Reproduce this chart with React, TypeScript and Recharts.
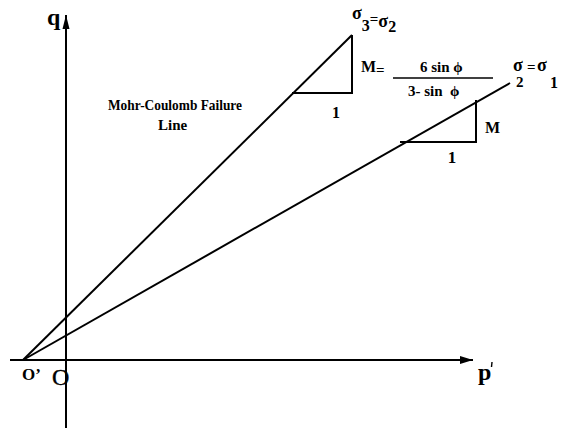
import React from 'react';
import { ScatterChart, Scatter, XAxis, YAxis } from 'recharts';

// Stress-path diagram in p'–q space (1 unit = 40 px at 567×431)
const P_DOMAIN: [number, number] = [-1.65, 12.525];
const Q_DOMAIN: [number, number] = [-1.775, 9];

type Pt = { p: number; q: number };

// axes
const pAxis: Pt[] = [{ p: -1.4, q: 0 }, { p: 10.175, q: 0 }];
const qAxis: Pt[] = [{ p: 0, q: -1.7 }, { p: 0, q: 8.625 }];
const origin: Pt[] = [{ p: 0, q: 0 }];

// shifted origin O' where both failure lines start
const shiftedOrigin: Pt[] = [{ p: -1.075, q: 0 }];

// failure lines
const compressionLine: Pt[] = [{ p: -1.075, q: 0 }, { p: 7.15, q: 8.125 }];
const extensionLine: Pt[] = [{ p: -1.075, q: 0 }, { p: 11.1, q: 6.925 }];

// slope triangles (run of 1, rise of M)
const compressionSlope: Pt[] = [
  { p: 5.65, q: 6.675 },
  { p: 7.15, q: 6.675 },
  { p: 7.15, q: 8.125 },
];
const extensionSlope: Pt[] = [
  { p: 8.35, q: 5.45 },
  { p: 10.25, q: 5.45 },
  { p: 10.25, q: 6.5 },
];

// text
const failureLabel = ['Mohr-Coulomb Failure', 'Line'];
const runLabel = '1';
const riseLabel = 'M';
const numerator = '6 sin ϕ';
const denominator = '3- sin  ϕ';

const FONT = 'Liberation Serif';
const INK = '#000';

const none = () => <g />;
const lineStyle = { stroke: INK, strokeWidth: 2 };

type ShapeProps = { cx?: number; cy?: number };

const txt = {
  fontFamily: FONT,
  fontWeight: 700,
  fill: INK,
} as const;

const ArrowRight = ({ cx = 0, cy = 0 }: ShapeProps) => (
  <polygon points={`${cx},${cy} ${cx - 13},${cy - 4} ${cx - 13},${cy + 4}`} fill={INK} />
);
const ArrowUp = ({ cx = 0, cy = 0 }: ShapeProps) => (
  <polygon points={`${cx},${cy} ${cx - 3.5},${cy + 14} ${cx + 3.5},${cy + 14}`} fill={INK} />
);

const QLabel = ({ cx = 0, cy = 0 }: ShapeProps) => (
  <text x={cx - 19} y={cy + 10} fontSize={24} {...txt}>q</text>
);
const PLabel = ({ cx = 0, cy = 0 }: ShapeProps) => (
  <g>
    <text x={cx + 5} y={cy + 20} fontSize={24} {...txt}>p</text>
    <line x1={cx + 19} y1={cy + 2} x2={cx + 18.5} y2={cy + 7} stroke={INK} strokeWidth={1.4} />
  </g>
);
const OriginLabel = ({ cx = 0, cy = 0 }: ShapeProps) => (
  <text x={cx - 14} y={cy + 25} fontSize={24} fontFamily={FONT} fill={INK} stroke={INK} strokeWidth={0.4}>O</text>
);
const ShiftedOriginLabel = ({ cx = 0, cy = 0 }: ShapeProps) => (
  <text x={cx - 1} y={cy + 20} fontSize={17} {...txt}>O’</text>
);

// labels around the top of the compression line
const CompressionLabels = ({ cx = 0, cy = 0 }: ShapeProps) => (
  <g>
    <text x={cx} y={cy - 16} fontSize={18} {...txt}>
      σ
      <tspan dy={12} fontSize={16}>3</tspan>
      <tspan dy={-7} fontSize={15}>=</tspan>
      <tspan dy={3} fontSize={18}>σ</tspan>
      <tspan dy={5} fontSize={16}>2</tspan>
    </text>
    <text x={cx + 9} y={cy + 37} fontSize={16} {...txt}>M</text>
    <text x={cx + 24} y={cy + 40} fontSize={15} {...txt}>=</text>
    <line x1={cx + 41} y1={cy + 43} x2={cx + 141} y2={cy + 43} stroke={INK} strokeWidth={1.3} />
    <text x={cx + 68} y={cy + 37} fontSize={15} {...txt}>{numerator}</text>
    <text x={cx + 56} y={cy + 61} fontSize={15} {...txt} style={{ whiteSpace: 'pre' }}>{denominator}</text>
  </g>
);
const CompressionRun = ({ cx = 0, cy = 0 }: ShapeProps) => (
  <text x={cx - 16} y={cy + 25} fontSize={16} textAnchor="middle" {...txt}>{runLabel}</text>
);
const FailureLabel = ({ cx = 0, cy = 0 }: ShapeProps) => (
  <g>
    <text x={cx - 184} y={cy + 17} fontSize={15} textLength={134} lengthAdjust="spacingAndGlyphs" {...txt}>
      {failureLabel[0]}
    </text>
    <text x={cx - 134} y={cy + 37} fontSize={15} {...txt}>{failureLabel[1]}</text>
  </g>
);

// labels at the end of the extension line
const ExtensionLabels = ({ cx = 0, cy = 0 }: ShapeProps) => (
  <g>
    <text x={cx + 3} y={cy - 12} fontSize={18} {...txt}>σ</text>
    <text x={cx + 6} y={cy + 4} fontSize={15} {...txt}>2</text>
    <text x={cx + 17} y={cy - 11} fontSize={15} {...txt}>=</text>
    <text x={cx + 27} y={cy - 12} fontSize={18} {...txt}>σ</text>
    <text x={cx + 40} y={cy + 5} fontSize={16} {...txt}>1</text>
  </g>
);
const ExtensionRise = ({ cx = 0, cy = 0 }: ShapeProps) => (
  <g>
    <text x={cx + 9} y={cy - 9} fontSize={16} {...txt}>{riseLabel}</text>
    <text x={cx - 24} y={cy + 21} fontSize={17} textAnchor="middle" {...txt}>{runLabel}</text>
  </g>
);

export default function App() {
  return (
    <div style={{ position: 'absolute', left: 0, top: 0, background: '#fff' }}>
      <ScatterChart width={567} height={431} margin={{ top: 0, right: 0, bottom: 0, left: 0 }}>
        <XAxis type="number" dataKey="p" domain={P_DOMAIN} allowDataOverflow hide />
        <YAxis type="number" dataKey="q" domain={Q_DOMAIN} allowDataOverflow hide />

        <Scatter data={pAxis} line={lineStyle} shape={none} isAnimationActive={false} />
        <Scatter data={qAxis} line={lineStyle} shape={none} isAnimationActive={false} />
        <Scatter data={[pAxis[1]]} shape={ArrowRight} isAnimationActive={false} />
        <Scatter data={[qAxis[1]]} shape={ArrowUp} isAnimationActive={false} />

        <Scatter data={compressionLine} line={lineStyle} shape={none} isAnimationActive={false} />
        <Scatter data={extensionLine} line={lineStyle} shape={none} isAnimationActive={false} />
        <Scatter data={compressionSlope} line={lineStyle} shape={none} isAnimationActive={false} />
        <Scatter data={extensionSlope} line={lineStyle} shape={none} isAnimationActive={false} />

        <Scatter data={[qAxis[1]]} shape={QLabel} isAnimationActive={false} />
        <Scatter data={[pAxis[1]]} shape={PLabel} isAnimationActive={false} />
        <Scatter data={origin} shape={OriginLabel} isAnimationActive={false} />
        <Scatter data={shiftedOrigin} shape={ShiftedOriginLabel} isAnimationActive={false} />
        <Scatter data={[compressionLine[1]]} shape={CompressionLabels} isAnimationActive={false} />
        <Scatter data={[compressionSlope[1]]} shape={CompressionRun} isAnimationActive={false} />
        <Scatter data={[compressionSlope[0]]} shape={FailureLabel} isAnimationActive={false} />
        <Scatter data={[extensionLine[1]]} shape={ExtensionLabels} isAnimationActive={false} />
        <Scatter data={[extensionSlope[1]]} shape={ExtensionRise} isAnimationActive={false} />
      </ScatterChart>
    </div>
  );
}
